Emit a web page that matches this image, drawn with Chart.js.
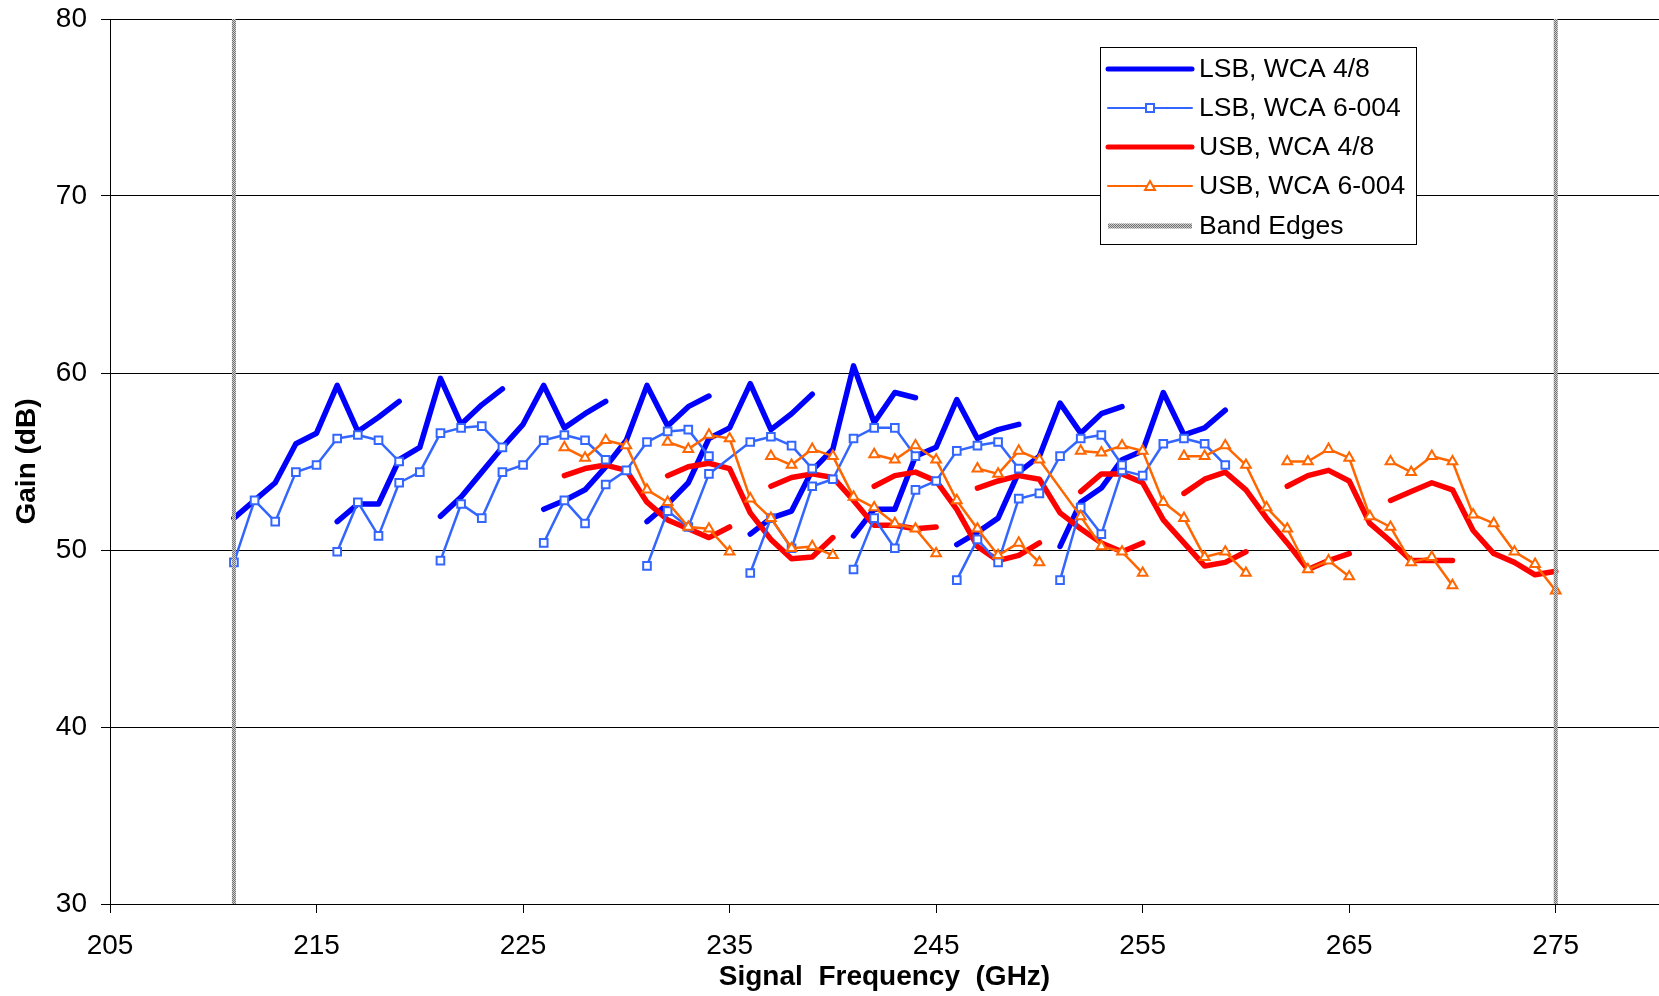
<!DOCTYPE html>
<html>
<head>
<meta charset="utf-8">
<script src="https://cdn.jsdelivr.net/npm/chart.js@4/dist/chart.umd.min.js"></script>
<style>
  html, body { margin: 0; padding: 0; background: #fff; }
</style>
</head>
<body>
<canvas id="gainChart" width="1659" height="996"></canvas>
<script>
// --- Data ---
const xTicks = [205, 215, 225, 235, 245, 255, 265, 275];
const yTicks = [30, 40, 50, 60, 70, 80];
const bandEdges = [211, 275];
const seriesNames = ["LSB, WCA 4/8", "LSB, WCA 6-004", "USB, WCA 4/8", "USB, WCA 6-004", "Band Edges"];

// first signal frequency (GHz) of each LO sweep, 1 GHz steps
const lsbStart = [211, 216, 221, 226, 231, 236, 241, 246, 251];
const usbStart = [227, 232, 237, 242, 247, 252, 257, 262, 267];

const lsbWca48 = [
  [51.8, 52.8, 53.8, 56.0, 56.6, 59.3, 56.7, 57.5, 58.4],
  [51.6, 52.6, 52.6, 55.1, 55.8, 59.7, 57.1, 58.2, 59.1],
  [51.9, 53.0, 54.4, 55.8, 57.1, 59.3, 56.9, 57.7, 58.4],
  [52.3, 52.8, 53.4, 54.7, 56.2, 59.3, 57.0, 58.1, 58.7],
  [51.6, 52.6, 53.8, 56.3, 56.9, 59.4, 56.8, 57.7, 58.8],
  [50.9, 51.8, 52.2, 54.5, 55.7, 60.4, 57.2, 58.9, 58.6],
  [50.8, 52.3, 52.3, 55.3, 55.8, 58.5, 56.3, 56.8, 57.1],
  [50.3, 51.0, 51.8, 54.4, 55.3, 58.3, 56.6, 57.7, 58.1],
  [50.2, 52.7, 53.5, 55.1, 55.6, 58.9, 56.5, 56.9, 57.9]
];

const lsbWca6004 = [
  [49.3, 52.8, 51.6, 54.4, 54.8, 56.3, 56.5, 56.2, 55.0],
  [49.9, 52.7, 50.8, 53.8, 54.4, 56.6, 56.9, 57.0, 55.8],
  [49.4, 52.6, 51.8, 54.4, 54.8, 56.2, 56.5, 56.2, 55.1],
  [50.4, 52.8, 51.5, 53.7, 54.5, 56.1, 56.7, 56.8, 55.3],
  [49.1, 52.2, 51.3, 54.3, null, 56.1, 56.4, 55.9, 54.6],
  [48.7, 51.8, 50.1, 53.6, 54.0, 56.3, 56.9, 56.9, 55.3],
  [48.9, 51.8, 50.1, 53.4, 53.9, 55.6, 55.9, 56.1, 54.6],
  [48.3, 50.6, 49.3, 52.9, 53.2, 55.3, 56.3, 56.5, 54.8],
  [48.3, 52.4, 50.9, 54.5, 54.2, 56.0, 56.3, 56.0, 54.8]
];

const usbWca48 = [
  [54.2, 54.6, 54.8, 54.5, 52.7, 51.7, 51.2, 50.7, 51.3],
  [54.2, 54.7, 54.9, 54.6, 52.1, 50.6, 49.5, 49.6, 50.7],
  [53.6, 54.1, 54.3, 54.1, 52.8, 51.4, 51.4, 51.2, 51.3],
  [53.6, 54.2, 54.4, 53.9, 52.3, 50.2, 49.4, 49.7, 50.4],
  [53.5, 53.9, 54.2, 54.0, 52.1, 51.2, 50.4, 49.9, 50.4],
  [53.3, 54.3, 54.3, 53.8, 51.7, 50.4, 49.1, 49.3, 49.9],
  [53.2, 54.0, 54.4, 53.4, 51.8, 50.4, 48.9, 49.4, 49.8],
  [53.6, 54.2, 54.5, 53.9, 51.5, 50.5, 49.4, 49.4, 49.4],
  [52.8, 53.3, 53.8, 53.4, 51.1, 49.8, 49.3, 48.6, 48.8]
];

const usbWca6004 = [
  [55.8, 55.2, 56.2, 55.9, 53.4, 52.7, 51.3, 51.2, 49.9],
  [56.1, 55.7, 56.5, 56.3, 52.9, 51.8, 50.1, 50.2, 49.7],
  [55.3, 54.8, 55.7, 55.3, 53.0, 52.4, 51.5, 51.2, 49.8],
  [55.4, 55.1, 55.9, 55.1, 52.8, 51.2, 49.7, 50.4, 49.3],
  [54.6, 54.3, 55.6, 55.1, null, 51.9, 50.2, 49.9, 48.7],
  [55.6, 55.5, 55.9, 55.6, 52.7, 51.8, 49.6, 49.9, 48.7],
  [55.3, 55.3, 55.9, 54.8, 52.4, 51.2, 48.9, 49.4, 48.5],
  [55.0, 55.0, 55.7, 55.2, 51.9, 51.3, 49.3, 49.6, 48.0],
  [55.0, 54.4, 55.3, 55.0, 52.0, 51.5, 49.9, 49.2, 47.7]
];

// --- Styles ---
const FONT = "'Liberation Sans', Arial, sans-serif";
const canvas = document.getElementById("gainChart");
const ctx = canvas.getContext("2d");

// grey speckled fill used by Excel for the band edge lines
function makeHatch() {
  const c = document.createElement("canvas");
  c.width = 2; c.height = 2;
  const g = c.getContext("2d");
  g.fillStyle = "#d0d0d0"; g.fillRect(0, 0, 2, 2);
  g.fillStyle = "#707070"; g.fillRect(0, 0, 1, 1); g.fillRect(1, 1, 1, 1);
  return ctx.createPattern(c, "repeat");
}
const hatch = makeHatch();

const styles = [
  { borderColor: "#0000ff", borderWidth: 5.5, pointRadius: 0, order: 4 },
  { borderColor: "#3366ff", borderWidth: 2.5, pointStyle: "rect", pointRadius: 5.4,
    pointBorderWidth: 2, pointBackgroundColor: "#ffffff", pointBorderColor: "#3366ff", order: 2 },
  { borderColor: "#ff0000", borderWidth: 5.5, pointRadius: 0, order: 3 },
  { borderColor: "#ff6600", borderWidth: 2.5, pointStyle: "triangle", pointRadius: 5.6,
    pointBorderWidth: 2, pointBackgroundColor: "#ffffff", pointBorderColor: "#ff6600", order: 1 },
  { borderColor: hatch, borderWidth: 4, pointRadius: 0, order: 0 }
];

function sweeps(idx, starts, gains) {
  return gains.map((g, i) => ({
    label: seriesNames[idx],
    data: g.map((v, k) => ({ x: starts[i] + k, y: v })),
    spanGaps: true,
    tension: 0,
    borderCapStyle: "round",
    borderJoinStyle: "round",
    ...styles[idx]
  }));
}

const datasets = [
  ...sweeps(0, lsbStart, lsbWca48),
  ...sweeps(1, lsbStart, lsbWca6004),
  ...sweeps(2, usbStart, usbWca48),
  ...sweeps(3, usbStart, usbWca6004),
  ...bandEdges.map(f => ({
    label: seriesNames[4],
    data: [{ x: f, y: yTicks[0] }, { x: f, y: yTicks[yTicks.length - 1] }],
    ...styles[4]
  }))
];

// --- Legend box inside the plot, Excel style ---
const boxLegend = {
  id: "boxLegend",
  afterDraw(chart) {
    const c = chart.ctx;
    const x0 = 1100, y0 = 47, w = 316, h = 197;
    c.save();
    c.fillStyle = "#fff";
    c.fillRect(x0, y0, w, h);
    c.strokeStyle = "#000";
    c.lineWidth = 1;
    c.strokeRect(x0 + 0.5, y0 + 0.5, w, h);
    c.font = "26.5px " + FONT;
    c.textBaseline = "middle";
    seriesNames.forEach((name, i) => {
      const st = styles[i];
      const cy = Math.round(68.5 + i * 39.3);
      c.beginPath();
      c.moveTo(1108, cy);
      c.lineTo(1192, cy);
      c.strokeStyle = st.borderColor;
      c.lineWidth = i === 4 ? 5 : (st.borderWidth > 3 ? 5 : 2);
      c.lineCap = i === 4 ? "butt" : "round";
      c.stroke();
      if (st.pointStyle === "rect") {
        c.fillStyle = "#fff";
        c.fillRect(1146, cy - 4, 8, 8);
        c.strokeStyle = st.pointBorderColor;
        c.lineWidth = 2;
        c.strokeRect(1146, cy - 4, 8, 8);
      } else if (st.pointStyle === "triangle") {
        c.beginPath();
        c.moveTo(1150, cy - 5);
        c.lineTo(1155, cy + 4);
        c.lineTo(1145, cy + 4);
        c.closePath();
        c.fillStyle = "#fff";
        c.fill();
        c.strokeStyle = st.pointBorderColor;
        c.lineWidth = 2;
        c.stroke();
      }
      c.fillStyle = "#000";
      c.fillText(name, 1199, cy + 1);
    });
    c.restore();
  }
};

new Chart(ctx, {
  type: "line",
  data: { datasets },
  plugins: [boxLegend],
  options: {
    responsive: false,
    animation: false,
    events: [],
    layout: { autoPadding: false, padding: { top: 19, right: 0, left: 0, bottom: 0 } },
    plugins: { legend: { display: false }, tooltip: { enabled: false } },
    scales: {
      x: {
        type: "linear",
        min: 205,
        max: 280,
        afterBuildTicks: s => { s.ticks = xTicks.map(v => ({ value: v })); },
        afterFit: s => { s.height = 92; s.paddingLeft = 0; s.paddingRight = 0; },
        grid: { drawOnChartArea: false, drawTicks: true, tickLength: 9, color: "#000", lineWidth: 1 },
        border: { display: true, color: "#000", width: 1 },
        ticks: { color: "#000", font: { size: 28, family: FONT }, padding: 16, maxRotation: 0, autoSkip: false },
        title: {
          display: true, text: "Signal  Frequency  (GHz)", color: "#000",
          font: { size: 28, weight: "bold", family: FONT }, padding: { top: 0, bottom: 2 }
        }
      },
      y: {
        type: "linear",
        min: 30,
        max: 80,
        afterBuildTicks: s => { s.ticks = yTicks.map(v => ({ value: v })); },
        afterFit: s => { s.width = 110; s.paddingTop = 0; s.paddingBottom = 0; },
        grid: { color: "#000", lineWidth: 1, tickLength: 9 },
        border: { display: true, color: "#000", width: 1 },
        ticks: { color: "#000", font: { size: 28, family: FONT }, padding: 14 },
        title: {
          display: true, text: "Gain (dB)", color: "#000",
          font: { size: 28, weight: "bold", family: FONT }, padding: { top: 10, bottom: 0 }
        }
      }
    }
  }
});
</script>
</body>
</html>
